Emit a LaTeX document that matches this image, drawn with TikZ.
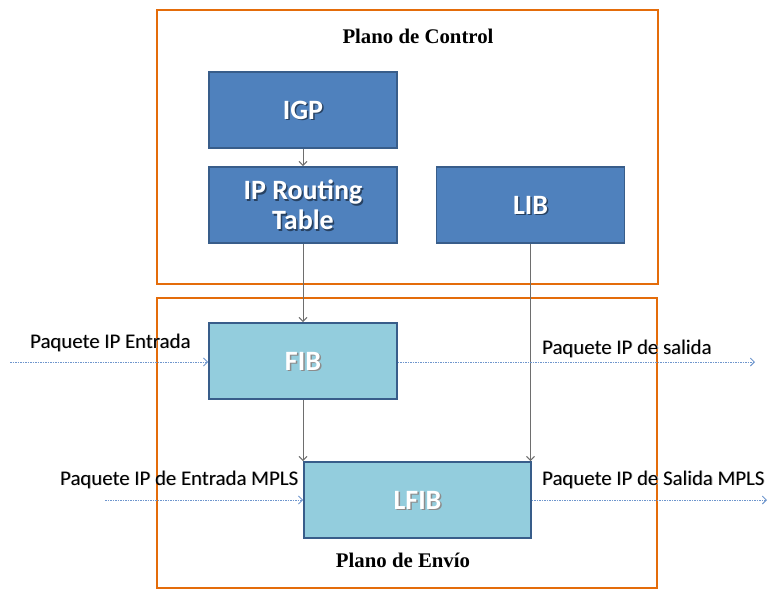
\documentclass[tikz,border=0pt]{standalone}
\usepackage{fontspec}
\setmainfont{Carlito}
\newfontfamily\titlefont{Liberation Serif}
\usetikzlibrary{arrows.meta}
\definecolor{frameorange}{RGB}{228,108,10}
\definecolor{darkbox}{RGB}{79,129,189}
\definecolor{darkedge}{RGB}{56,93,138}
\definecolor{lightbox}{RGB}{147,205,221}
\definecolor{flowblue}{RGB}{110,150,205}
\definecolor{linkgray}{RGB}{110,110,110}
\tikzset{
  frame/.style={draw=frameorange, line width=2.6pt},
  boxtext/.style={font=\bfseries\fontsize{28}{30}\selectfont, text=white, align=center},
  darkblk/.style={draw=darkedge, line width=1.8pt, fill=darkbox, minimum width=188pt, minimum height=76pt, inner sep=0pt},
  lightblk/.style={draw=darkedge, line width=1.8pt, fill=lightbox, minimum height=76pt, inner sep=0pt},
  link/.style={draw=linkgray, line width=1pt, -{Straight Barb[length=4pt,width=8pt]}},
  flow/.style={draw=flowblue, line width=0.9pt, dash pattern=on 1.5pt off 1pt, -{Straight Barb[length=4pt,width=8pt]}},
  lbl/.style={font=\fontsize{20.8}{22}\selectfont, anchor=base west, inner sep=0pt},
  ttl/.style={font=\titlefont\bfseries\fontsize{20.8}{24}\selectfont, inner sep=0pt, anchor=base}
}
\begin{document}
\begin{tikzpicture}[x=1pt,y=-1pt]
\useasboundingbox (0,0) rectangle (769,590);
% frames
\draw[frame] (157,10) rectangle (658,284);
\draw[frame] (157,298) rectangle (657,588);
\node[ttl] (tc) at (418,43) {Plano de Control};
\node[ttl] (te) at (403,567) {Plano de Envío};
% boxes
\node[darkblk] (igp) at (303,110) {};
\node[boxtext, text=darkedge!70!black] at (304.5,111.5) {IGP};
\node[boxtext] at (303,110) {IGP};
\node[darkblk] (iprt) at (303,205) {};
\node[boxtext, text=darkedge!70!black] at (304.5,206.5) {IP Routing\\Table};
\node[boxtext] at (303,205) {IP Routing\\Table};
\node[darkblk] (lib) at (530.5,205) {};
\node[boxtext, text=darkedge!70!black] at (532,206.5) {LIB};
\node[boxtext] at (530.5,205) {LIB};
\node[lightblk, minimum width=188pt] (fib) at (303,361) {};
\node[boxtext, text=black!45] at (304.5,362.5) {FIB};
\node[boxtext] at (303,361) {FIB};
\node[lightblk, minimum width=227pt] (lfib) at (417.5,500) {};
\node[boxtext, text=black!45] at (419,501.5) {LFIB};
\node[boxtext] at (417.5,500) {LFIB};
% links
\draw[link] (igp.south) -- (iprt.north);
\draw[link] (iprt.south) -- (fib.north);
\draw[link] (fib.south) -- (fib.south |- lfib.north);
\draw[link] (lib.south) -- (lib.south |- lfib.north);
% flows
\coordinate (inA) at (10,362);
\coordinate (outA) at (755,362);
\coordinate (inB) at (105,500);
\coordinate (outB) at (767,500);
\draw[flow] (inA) -- (inA -| fib.west);
\draw[flow] (fib.east |- outA) -- (outA);
\draw[flow] (inB) -- (inB -| lfib.west);
\draw[flow] (lfib.east |- outB) -- (outB);
% labels
\node[lbl, text=black!30] at (30.8,348.8) {Paquete IP Entrada};
\node[lbl] (la) at (30,348) {Paquete IP Entrada};
\node[lbl, text=black!30] at (542.8,354.8) {Paquete IP de salida};
\node[lbl] (lb) at (542,354) {Paquete IP de salida};
\node[lbl, text=black!30] at (60.8,485.8) {Paquete IP de Entrada MPLS};
\node[lbl] (lc) at (60,485) {Paquete IP de Entrada MPLS};
\node[lbl, text=black!30] at (542.8,485.8) {Paquete IP de Salida MPLS};
\node[lbl] (ld) at (542,485) {Paquete IP de Salida MPLS};
\end{tikzpicture}
\end{document}
